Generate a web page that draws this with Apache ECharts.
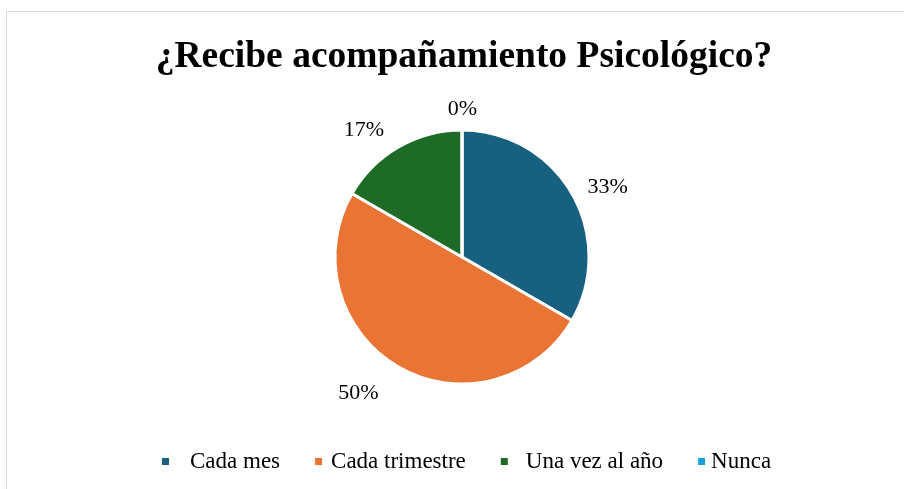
<!DOCTYPE html>
<html>
<head>
<meta charset="utf-8">
<script src="https://cdn.jsdelivr.net/npm/echarts@6/dist/echarts.min.js"></script>
<style>
  html, body { margin: 0; padding: 0; background: #fff; }
  .frame {
    position: absolute; left: 6px; top: 11px; width: 910px; height: 490px;
    border: 1px solid #d9d9d9; box-sizing: border-box;
  }
  #chart { position: absolute; left: 0; top: 0; width: 904px; height: 489px; }
</style>
</head>
<body>
<div class="frame"></div>
<div id="chart"></div>
<script>
const titleText = '¿Recibe acompañamiento Psicológico?'
const categories = ['Cada mes', 'Cada trimestre', 'Una vez al año', 'Nunca']
const values = [2, 3, 1, 0]
const colors = ['#17607f', '#ea7434', '#1e6b27', '#1aa0d8']

const serif = "'Liberation Serif', 'Times New Roman', serif"
// distancia de cada etiqueta al borde del sector
const lineLen = [12, 30, 19, 21]
// espacio entre el cuadro y el texto de la leyenda
const legendPad = [15, 3, 12, 0]

const chart = echarts.init(document.getElementById('chart'))
chart.setOption({
  animation: false,
  color: colors,
  title: {
    text: titleText,
    left: 459,
    textAlign: 'center',
    top: 33,
    textStyle: { fontFamily: serif, fontSize: 37.5, fontWeight: 'bold', color: '#000' }
  },
  legend: {
    bottom: 16,
    left: 160,
    padding: 0,
    itemWidth: 9,
    itemHeight: 9,
    itemGap: 33,
    icon: 'rect',
    textStyle: { fontFamily: serif, fontSize: 23, color: '#000' },
    data: categories.map((c, i) => ({
      name: c,
      textStyle: { padding: [0, 0, 0, legendPad[i]] }
    }))
  },
  series: [{
    type: 'pie',
    center: [462, 257],
    radius: 127,
    startAngle: 90,
    clockwise: true,
    avoidLabelOverlap: false,
    percentPrecision: 0,
    itemStyle: { borderColor: '#fff', borderWidth: 3 },
    label: {
      show: true,
      position: 'outside',
      formatter: '{d}%',
      fontFamily: serif,
      fontSize: 22,
      color: '#000'
    },
    labelLine: { show: false, length: 14, length2: 0 },
    data: categories.map((c, i) => ({
      name: c,
      value: values[i],
      label: i === 3 ? { padding: [0, -20, 0, 0] } : {},
      labelLine: { show: false, length: lineLen[i], length2: 0 }
    }))
  }]
})
</script>
</body>
</html>
